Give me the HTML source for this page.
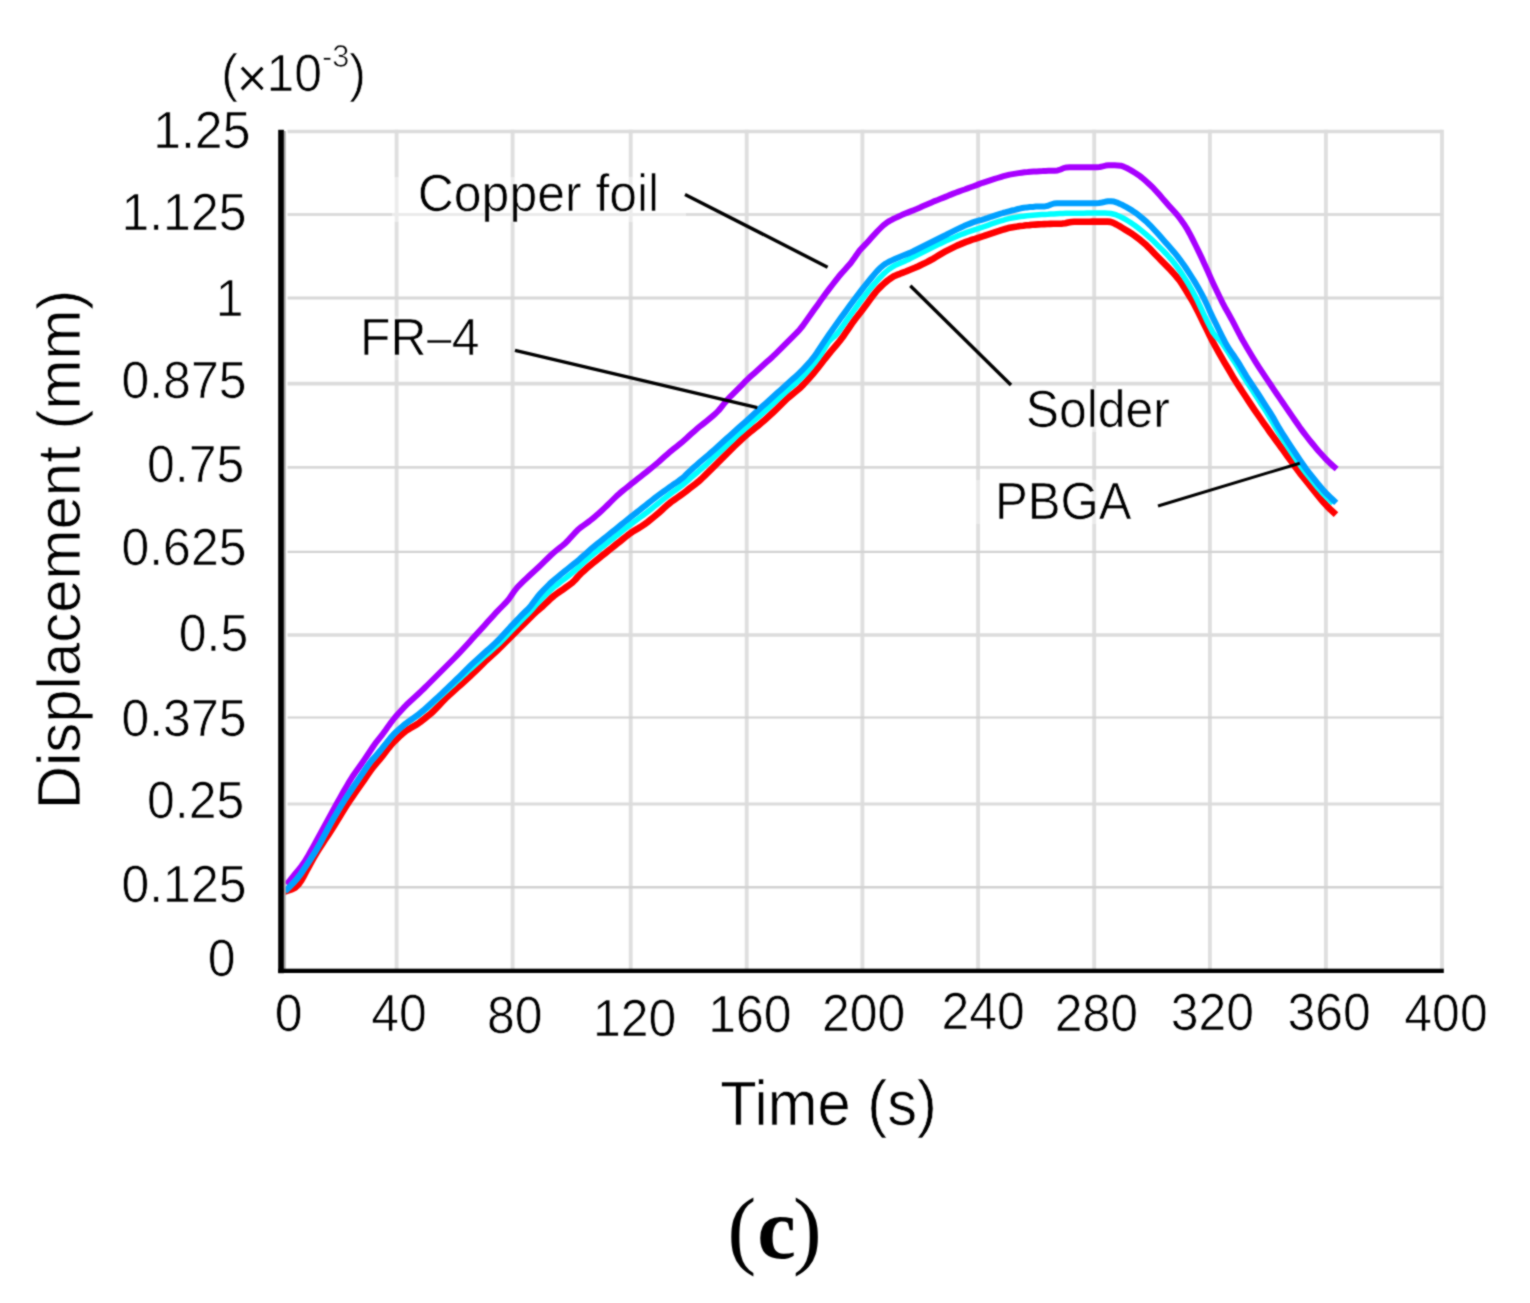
<!DOCTYPE html>
<html lang="en">
<head>
<meta charset="utf-8">
<title>Displacement vs. time (c)</title>
<style>
html,body{margin:0;padding:0;background:#fff;}
body{width:1530px;height:1303px;overflow:hidden;}
svg{display:block;}
text{font-family:"Liberation Sans",sans-serif;fill:#000;}
.lbl text{stroke:#fff;stroke-width:0.7px;stroke-linejoin:round;}
.curve{fill:none;stroke-linejoin:round;stroke-linecap:butt;}
</style>
</head>
<body>
<svg width="1530" height="1303" viewBox="0 0 1530 1303">
<defs>
<filter id="soft" x="0" y="0" width="1530" height="1303" filterUnits="userSpaceOnUse" color-interpolation-filters="sRGB">
<feConvolveMatrix order="3" kernelMatrix="1 2 1 2 8 2 1 2 1" divisor="20" edgeMode="duplicate" preserveAlpha="true"/>
</filter>
</defs>
<g filter="url(#soft)">
<rect x="0" y="0" width="1530" height="1303" fill="#ffffff"/>
<g class="grid">
<line x1="396.6" y1="129.7" x2="396.6" y2="970" stroke="#dfdfdf" stroke-width="3.9"/>
<line x1="512.6" y1="129.7" x2="512.6" y2="970" stroke="#dfdfdf" stroke-width="3.9"/>
<line x1="630.7" y1="129.7" x2="630.7" y2="970" stroke="#dfdfdf" stroke-width="3.9"/>
<line x1="746.7" y1="129.7" x2="746.7" y2="970" stroke="#dfdfdf" stroke-width="3.9"/>
<line x1="862.4" y1="129.7" x2="862.4" y2="970" stroke="#dfdfdf" stroke-width="3.9"/>
<line x1="978.1" y1="129.7" x2="978.1" y2="970" stroke="#dfdfdf" stroke-width="3.9"/>
<line x1="1094.2" y1="129.7" x2="1094.2" y2="970" stroke="#dfdfdf" stroke-width="3.9"/>
<line x1="1209.9" y1="129.7" x2="1209.9" y2="970" stroke="#dfdfdf" stroke-width="3.9"/>
<line x1="1325.9" y1="129.7" x2="1325.9" y2="970" stroke="#dfdfdf" stroke-width="3.9"/>
<line x1="1442.0" y1="129.7" x2="1442.0" y2="970" stroke="#dfdfdf" stroke-width="3.9"/>
<line x1="287.5" y1="131.5" x2="1442.5" y2="131.5" stroke="#dcdcdc" stroke-width="3.6"/>
<line x1="287.5" y1="214.5" x2="1442.5" y2="214.5" stroke="#dcdcdc" stroke-width="3.2"/>
<line x1="287.5" y1="298.0" x2="1442.5" y2="298.0" stroke="#d8d8d8" stroke-width="2.8"/>
<line x1="287.5" y1="383.6" x2="1442.5" y2="383.6" stroke="#dcdcdc" stroke-width="3.6"/>
<line x1="287.5" y1="467.3" x2="1442.5" y2="467.3" stroke="#d8d8d8" stroke-width="2.8"/>
<line x1="287.5" y1="551.9" x2="1442.5" y2="551.9" stroke="#d2d2d2" stroke-width="2.3"/>
<line x1="287.5" y1="635.0" x2="1442.5" y2="635.0" stroke="#dcdcdc" stroke-width="3.6"/>
<line x1="287.5" y1="717.6" x2="1442.5" y2="717.6" stroke="#d2d2d2" stroke-width="2.0"/>
<line x1="287.5" y1="804.0" x2="1442.5" y2="804.0" stroke="#dcdcdc" stroke-width="3.2"/>
<line x1="287.5" y1="887.2" x2="1442.5" y2="887.2" stroke="#d2d2d2" stroke-width="2.4"/>
</g>
<!-- faint white boxes behind annotation labels -->
<g fill="#ffffff">
<rect x="392" y="177" width="294" height="45" fill-opacity="0.42"/>
<rect x="1022" y="388" width="152" height="44" fill-opacity="0.4"/>
<rect x="975" y="480" width="160" height="44" fill-opacity="0.35"/>
<rect x="356" y="316" width="128" height="44" fill-opacity="0.3"/>
</g>
<!-- curves -->
<polyline class="curve" stroke="#a800ff" stroke-width="6" points="286.5,884.5 289.5,880.9 292.5,877.2 295.5,873.5 298.5,869.8 301.5,866.0 304.5,861.8 307.5,856.9 310.5,851.6 313.5,846.3 316.5,840.8 319.5,835.3 322.5,829.8 325.5,824.3 328.5,818.8 331.5,813.3 334.5,807.7 337.5,802.2 340.5,796.9 343.5,791.6 346.5,786.4 349.5,781.3 352.5,776.5 355.5,772.1 358.5,767.9 361.5,763.7 364.5,759.4 367.5,755.0 370.5,750.5 373.5,746.0 376.5,741.8 379.5,738.1 382.5,734.3 385.5,730.2 388.5,725.9 391.5,721.8 394.5,718.0 397.5,714.5 400.5,711.2 403.5,707.9 406.5,704.8 409.5,702.0 412.5,699.3 415.5,696.6 418.5,693.8 421.5,690.9 424.5,688.0 427.5,685.0 430.5,682.0 433.5,679.0 436.5,676.0 439.5,673.0 442.5,670.0 445.5,667.0 448.5,664.0 451.5,661.0 454.5,658.0 457.5,654.9 460.5,651.7 463.5,648.5 466.5,645.2 469.5,641.9 472.5,638.6 475.5,635.3 478.5,632.0 481.5,628.7 484.5,625.4 487.5,622.0 490.5,618.7 493.5,615.4 496.5,612.1 499.5,609.0 502.5,606.0 505.5,602.9 508.5,599.6 511.5,595.3 514.5,590.8 517.5,587.2 520.5,584.2 523.5,581.2 526.5,578.3 529.5,575.5 532.5,572.8 535.5,570.1 538.5,567.3 541.5,564.4 544.5,561.4 547.5,558.5 550.6,555.5 553.6,552.8 556.6,550.3 559.6,547.9 562.6,545.5 565.6,542.9 568.6,539.8 571.6,536.5 574.6,533.2 577.6,530.1 580.6,527.5 583.6,525.3 586.6,523.2 589.6,521.0 592.6,518.6 595.6,516.1 598.6,513.4 601.6,510.7 604.6,507.9 607.6,505.0 610.6,502.0 613.6,499.0 616.6,496.1 619.6,493.4 622.6,490.9 625.6,488.5 628.6,486.1 631.6,483.7 634.6,481.3 637.6,478.9 640.6,476.6 643.6,474.2 646.6,471.8 649.6,469.4 652.6,467.0 655.6,464.5 658.6,462.0 661.6,459.3 664.6,456.6 667.6,453.9 670.6,451.3 673.6,448.9 676.6,446.6 679.6,444.2 682.6,441.7 685.6,439.1 688.6,436.3 691.6,433.6 694.6,430.9 697.6,428.3 700.6,425.8 703.6,423.5 706.6,421.1 709.6,418.6 712.6,416.1 715.6,413.5 718.6,410.5 721.6,406.8 724.6,403.0 727.6,399.5 730.6,396.3 733.6,393.3 736.6,390.3 739.6,387.3 742.6,384.3 745.6,381.2 748.6,378.3 751.6,375.6 754.6,372.9 757.6,370.2 760.6,367.5 763.6,364.8 766.6,362.1 769.6,359.4 772.6,356.7 775.6,353.8 778.6,350.9 781.6,347.9 784.6,344.8 787.6,341.8 790.6,338.8 793.6,335.8 796.6,332.9 799.6,329.7 802.6,326.0 805.6,321.8 808.6,317.6 811.6,313.3 814.6,309.1 817.6,304.9 820.6,300.6 823.6,296.4 826.6,292.3 829.6,288.4 832.6,284.5 835.6,280.6 838.6,276.8 841.6,273.3 844.6,270.0 847.6,266.6 850.6,263.2 853.6,259.1 856.6,254.7 859.6,250.6 862.6,247.3 865.6,244.2 868.6,240.9 871.6,237.6 874.6,234.3 877.6,231.0 880.6,228.0 883.6,225.1 886.6,222.8 889.6,220.9 892.6,219.3 895.6,217.9 898.6,216.5 901.6,215.1 904.6,213.8 907.6,212.6 910.6,211.4 913.6,210.2 916.6,209.0 919.6,207.7 922.6,206.3 925.6,205.0 928.6,203.7 931.6,202.4 934.6,201.1 937.6,200.0 940.6,198.8 943.6,197.6 946.6,196.4 949.6,195.1 952.6,193.9 955.6,192.7 958.6,191.6 961.6,190.5 964.6,189.5 967.6,188.4 970.6,187.3 973.6,186.2 976.6,185.1 979.6,183.9 982.6,182.8 985.6,181.8 988.6,180.8 991.6,179.8 994.6,178.9 997.6,178.0 1000.6,177.1 1003.6,176.2 1006.6,175.4 1009.6,174.6 1012.6,174.1 1015.6,173.6 1018.6,173.1 1021.6,172.7 1024.6,172.3 1027.6,172.1 1030.6,171.8 1033.6,171.6 1036.6,171.4 1039.6,171.2 1042.6,171.1 1045.6,170.9 1048.6,170.8 1051.6,170.7 1054.6,170.7 1057.6,170.4 1060.6,169.5 1063.6,168.1 1066.6,167.4 1069.6,167.3 1072.6,167.3 1075.7,167.3 1078.7,167.3 1081.7,167.3 1084.7,167.3 1087.7,167.3 1090.7,167.3 1093.7,167.3 1096.7,167.3 1099.7,167.0 1102.7,166.3 1105.7,165.6 1108.7,165.3 1111.7,165.3 1114.7,165.3 1117.7,165.4 1120.7,165.7 1123.7,166.7 1126.7,168.0 1129.7,169.6 1132.7,171.4 1135.7,173.2 1138.7,175.2 1141.7,177.5 1144.7,180.1 1147.7,182.7 1150.7,185.5 1153.7,188.4 1156.7,191.7 1159.7,195.1 1162.7,198.6 1165.7,202.0 1168.7,205.4 1171.7,208.7 1174.7,212.0 1177.7,215.5 1180.7,219.5 1183.7,223.7 1186.7,228.3 1189.7,233.7 1192.7,239.5 1195.7,245.5 1198.7,251.6 1201.7,257.9 1204.7,264.4 1207.7,271.1 1210.7,277.9 1213.7,284.5 1216.7,290.8 1219.7,297.0 1222.7,303.1 1225.7,308.8 1228.7,314.1 1231.7,319.4 1234.7,325.1 1237.7,331.0 1240.7,336.7 1243.7,342.1 1246.7,347.2 1249.7,352.3 1252.7,357.3 1255.7,362.1 1258.7,366.8 1261.7,371.4 1264.7,375.9 1267.7,380.4 1270.7,384.8 1273.7,389.3 1276.7,393.7 1279.7,398.1 1282.7,402.5 1285.7,406.9 1288.7,411.2 1291.7,415.6 1294.7,420.0 1297.7,424.3 1300.7,428.6 1303.7,432.6 1306.7,436.5 1309.7,440.3 1312.7,444.0 1315.7,447.7 1318.7,451.2 1321.7,454.5 1324.7,457.8 1327.7,460.9 1330.7,463.7 1333.7,466.4 1336.7,469.0"/>
<polyline class="curve" stroke="#ff0000" stroke-width="6.6" points="283.2,892.2 286.2,891.2 289.2,890.2 292.2,889.1 295.2,887.5 298.2,884.7 301.2,880.6 304.3,875.1 307.3,869.3 310.3,863.9 313.3,858.5 316.3,853.3 319.3,848.5 322.3,843.9 325.3,839.3 328.3,834.8 331.3,830.2 334.3,825.5 337.3,820.6 340.4,815.6 343.4,810.6 346.4,805.8 349.4,801.2 352.4,796.9 355.4,792.5 358.4,788.2 361.4,783.9 364.4,779.6 367.4,775.2 370.4,770.9 373.4,766.8 376.5,763.1 379.5,759.6 382.5,755.9 385.5,752.0 388.5,748.1 391.5,744.4 394.5,741.3 397.5,738.4 400.5,735.5 403.5,732.8 406.5,730.5 409.5,728.6 412.5,726.9 415.6,725.1 418.6,723.2 421.6,721.0 424.6,718.6 427.6,716.2 430.6,713.7 433.6,711.0 436.6,707.9 439.6,704.7 442.6,701.5 445.6,698.4 448.6,695.6 451.7,692.8 454.7,690.1 457.7,687.4 460.7,684.7 463.7,682.0 466.7,679.3 469.7,676.6 472.7,673.7 475.7,670.8 478.7,667.8 481.7,664.8 484.7,661.8 487.8,659.0 490.8,656.3 493.8,653.6 496.8,650.8 499.8,647.9 502.8,644.9 505.8,642.0 508.8,639.0 511.8,636.0 514.8,633.0 517.8,630.0 520.8,627.0 523.9,623.9 526.9,620.9 529.9,617.9 532.9,614.9 535.9,612.1 538.9,609.5 541.9,607.0 544.9,604.2 547.9,601.3 550.9,598.4 553.9,595.9 556.9,593.7 559.9,591.5 563.0,589.4 566.0,587.3 569.0,585.1 572.0,582.9 575.0,580.0 578.0,576.5 581.0,573.4 584.0,570.7 587.0,568.1 590.0,565.5 593.0,563.0 596.0,560.6 599.1,558.1 602.1,555.7 605.1,553.3 608.1,550.9 611.1,548.5 614.1,546.1 617.1,543.7 620.1,541.3 623.1,538.9 626.1,536.5 629.1,534.1 632.1,532.0 635.2,530.2 638.2,528.4 641.2,526.5 644.2,524.5 647.2,522.3 650.2,519.9 653.2,517.5 656.2,515.0 659.2,512.4 662.2,509.7 665.2,506.9 668.2,504.3 671.2,501.9 674.3,499.7 677.3,497.6 680.3,495.5 683.3,493.3 686.3,491.1 689.3,488.7 692.3,486.4 695.3,484.1 698.3,481.7 701.3,479.0 704.3,476.1 707.3,473.1 710.4,470.1 713.4,467.1 716.4,464.1 719.4,461.1 722.4,458.1 725.4,455.1 728.4,452.1 731.4,449.1 734.4,446.1 737.4,443.3 740.4,440.5 743.4,437.8 746.5,435.1 749.5,432.5 752.5,430.1 755.5,427.7 758.5,425.3 761.5,422.8 764.5,420.2 767.5,417.5 770.5,414.8 773.5,412.0 776.5,409.1 779.5,406.1 782.5,403.1 785.6,400.1 788.6,397.4 791.6,394.9 794.6,392.5 797.6,390.0 800.6,387.4 803.6,384.4 806.6,381.1 809.6,377.8 812.6,374.4 815.6,370.7 818.6,366.9 821.7,363.0 824.7,359.1 827.7,355.4 830.7,351.7 833.7,348.2 836.7,344.6 839.7,341.0 842.7,337.1 845.7,332.7 848.7,328.3 851.7,323.9 854.7,319.8 857.8,315.8 860.8,311.9 863.8,308.0 866.8,304.0 869.8,299.9 872.8,295.8 875.8,291.9 878.8,288.6 881.8,285.6 884.8,282.8 887.8,280.4 890.8,278.3 893.8,276.3 896.9,274.9 899.9,273.8 902.9,272.6 905.9,271.5 908.9,270.2 911.9,269.0 914.9,267.8 917.9,266.5 920.9,265.0 923.9,263.6 926.9,262.1 929.9,260.5 933.0,258.8 936.0,257.0 939.0,255.2 942.0,253.4 945.0,251.7 948.0,250.1 951.0,248.6 954.0,247.1 957.0,245.6 960.0,244.4 963.0,243.1 966.0,241.9 969.1,240.8 972.1,239.7 975.1,238.8 978.1,237.8 981.1,236.8 984.1,235.9 987.1,234.8 990.1,233.8 993.1,232.8 996.1,231.8 999.1,230.9 1002.1,229.9 1005.2,229.0 1008.2,228.1 1011.2,227.5 1014.2,226.9 1017.2,226.5 1020.2,226.0 1023.2,225.7 1026.2,225.3 1029.2,225.1 1032.2,224.8 1035.2,224.6 1038.2,224.4 1041.2,224.2 1044.3,224.1 1047.3,224.0 1050.3,223.9 1053.3,223.8 1056.3,223.7 1059.3,223.7 1062.3,223.6 1065.3,223.2 1068.3,222.5 1071.3,222.0 1074.3,221.8 1077.3,221.7 1080.4,221.7 1083.4,221.7 1086.4,221.7 1089.4,221.7 1092.4,221.6 1095.4,221.6 1098.4,221.6 1101.4,221.6 1104.4,221.5 1107.4,221.6 1110.4,221.9 1113.4,222.9 1116.5,224.5 1119.5,226.2 1122.5,228.0 1125.5,229.8 1128.5,231.6 1131.5,233.5 1134.5,235.6 1137.5,237.9 1140.5,240.2 1143.5,242.7 1146.5,245.3 1149.5,248.3 1152.5,251.5 1155.6,254.7 1158.6,257.8 1161.6,260.8 1164.6,263.8 1167.6,266.9 1170.6,270.0 1173.6,273.4 1176.6,276.8 1179.6,280.5 1182.6,285.0 1185.6,289.8 1188.6,294.7 1191.7,299.7 1194.7,305.2 1197.7,311.1 1200.7,317.1 1203.7,323.3 1206.7,329.4 1209.7,335.6 1212.7,341.5 1215.7,347.0 1218.7,352.3 1221.7,357.6 1224.7,362.8 1227.8,368.0 1230.8,373.2 1233.8,378.3 1236.8,383.0 1239.8,387.6 1242.8,392.2 1245.8,396.8 1248.8,401.4 1251.8,405.9 1254.8,410.3 1257.8,414.6 1260.8,419.0 1263.8,423.3 1266.9,427.7 1269.9,432.0 1272.9,436.2 1275.9,440.3 1278.9,444.4 1281.9,448.4 1284.9,452.6 1287.9,456.8 1290.9,460.9 1293.9,465.0 1296.9,469.1 1299.9,473.1 1303.0,477.0 1306.0,480.7 1309.0,484.4 1312.0,488.2 1315.0,491.9 1318.0,495.7 1321.0,499.3 1324.0,502.8 1327.0,506.1 1330.0,509.1 1333.0,511.9 1336.0,514.7"/>
<polyline class="curve" stroke="#00ffff" stroke-width="5.5" points="285.2,891.2 288.2,888.2 291.2,885.2 294.2,882.0 297.2,878.5 300.2,874.6 303.2,870.3 306.2,865.8 309.2,861.3 312.2,856.6 315.2,851.8 318.2,846.7 321.2,841.3 324.2,835.7 327.2,830.1 330.2,824.5 333.2,819.2 336.2,814.0 339.2,808.9 342.2,803.9 345.2,799.1 348.3,794.5 351.3,790.0 354.3,785.5 357.3,781.1 360.3,776.7 363.3,772.2 366.3,767.9 369.3,763.8 372.3,759.9 375.3,756.4 378.3,752.9 381.3,749.3 384.3,745.6 387.3,741.9 390.3,738.2 393.3,734.9 396.3,731.9 399.3,729.1 402.3,726.5 405.3,724.2 408.3,722.0 411.3,719.9 414.3,717.9 417.3,715.9 420.3,713.7 423.3,711.3 426.3,708.8 429.3,706.3 432.3,703.7 435.3,701.0 438.3,698.3 441.3,695.5 444.3,692.8 447.3,690.0 450.3,687.3 453.3,684.6 456.3,681.8 459.3,679.1 462.3,676.3 465.3,673.6 468.3,670.8 471.3,668.1 474.4,665.4 477.4,662.7 480.4,660.0 483.4,657.3 486.4,654.7 489.4,652.1 492.4,649.5 495.4,646.8 498.4,644.0 501.4,641.0 504.4,638.0 507.4,634.8 510.4,631.7 513.4,628.6 516.4,625.5 519.4,622.4 522.4,619.4 525.4,616.4 528.4,613.3 531.4,610.1 534.4,606.7 537.4,603.3 540.4,600.1 543.4,597.1 546.4,594.1 549.4,591.3 552.4,588.5 555.4,586.0 558.4,583.7 561.4,581.4 564.4,579.1 567.4,576.8 570.4,574.4 573.4,571.9 576.4,569.2 579.4,566.4 582.4,563.7 585.4,561.0 588.4,558.3 591.4,555.7 594.4,553.2 597.4,550.8 600.5,548.4 603.5,546.0 606.5,543.6 609.5,541.2 612.5,538.8 615.5,536.4 618.5,534.0 621.5,531.6 624.5,529.2 627.5,526.8 630.5,524.5 633.5,522.3 636.5,520.1 639.5,517.9 642.5,515.8 645.5,513.5 648.5,511.2 651.5,508.8 654.5,506.4 657.5,504.0 660.5,501.6 663.5,499.2 666.5,496.8 669.5,494.5 672.5,492.3 675.5,490.2 678.5,488.0 681.5,485.8 684.5,483.4 687.5,480.9 690.5,478.2 693.5,475.7 696.5,473.1 699.5,470.5 702.5,467.9 705.5,465.2 708.5,462.4 711.5,459.6 714.5,456.8 717.5,454.0 720.5,451.2 723.6,448.4 726.6,445.5 729.6,442.7 732.6,439.9 735.6,437.1 738.6,434.3 741.6,431.6 744.6,428.9 747.6,426.3 750.6,423.6 753.6,421.0 756.6,418.5 759.6,415.9 762.6,413.2 765.6,410.6 768.6,407.9 771.6,405.1 774.6,402.4 777.6,399.6 780.6,396.8 783.6,394.0 786.6,391.2 789.6,388.5 792.6,385.9 795.6,383.3 798.6,380.6 801.6,377.7 804.6,374.6 807.6,371.3 810.6,367.9 813.6,364.3 816.6,360.4 819.6,356.2 822.6,351.7 825.6,346.6 828.6,341.7 831.6,338.7 834.6,336.4 837.6,333.1 840.6,329.0 843.6,324.7 846.6,320.4 849.7,316.2 852.7,312.0 855.7,307.8 858.7,303.7 861.7,299.7 864.7,295.7 867.7,291.9 870.7,288.1 873.7,284.6 876.7,281.2 879.7,277.9 882.7,274.8 885.7,272.0 888.7,269.5 891.7,267.4 894.7,265.6 897.7,264.2 900.7,262.9 903.7,261.7 906.7,260.3 909.7,258.9 912.7,257.4 915.7,255.9 918.7,254.4 921.7,252.9 924.7,251.4 927.7,249.9 930.7,248.4 933.7,246.9 936.7,245.4 939.7,243.9 942.7,242.5 945.7,241.1 948.7,239.8 951.7,238.5 954.7,237.2 957.7,235.9 960.7,234.7 963.7,233.6 966.7,232.4 969.7,231.4 972.8,230.3 975.8,229.3 978.8,228.4 981.8,227.4 984.8,226.4 987.8,225.3 990.8,224.2 993.8,223.2 996.8,222.2 999.8,221.2 1002.8,220.3 1005.8,219.4 1008.8,218.6 1011.8,218.0 1014.8,217.5 1017.8,217.0 1020.8,216.6 1023.8,216.2 1026.8,215.8 1029.8,215.5 1032.8,215.2 1035.8,215.0 1038.8,214.8 1041.8,214.6 1044.8,214.4 1047.8,214.3 1050.8,214.1 1053.8,213.9 1056.8,213.7 1059.8,213.5 1062.8,213.4 1065.8,213.3 1068.8,213.3 1071.8,213.2 1074.8,213.2 1077.8,213.2 1080.8,213.2 1083.8,213.2 1086.8,213.1 1089.8,213.1 1092.8,213.1 1095.8,213.1 1098.9,213.1 1101.9,213.1 1104.9,213.1 1107.9,213.2 1110.9,213.5 1113.9,214.2 1116.9,215.2 1119.9,216.5 1122.9,218.0 1125.9,219.7 1128.9,221.5 1131.9,223.4 1134.9,225.5 1137.9,227.8 1140.9,230.1 1143.9,232.6 1146.9,235.2 1149.9,237.8 1152.9,240.6 1155.9,243.5 1158.9,246.4 1161.9,249.4 1164.9,252.5 1167.9,255.7 1170.9,259.1 1173.9,262.7 1176.9,266.6 1179.9,270.8 1182.9,275.3 1185.9,279.9 1188.9,284.8 1191.9,290.0 1194.9,295.6 1197.9,301.6 1200.9,308.0 1203.9,314.4 1206.9,320.7 1209.9,326.8 1212.9,332.4 1215.9,336.4 1218.9,339.1 1221.9,342.7 1225.0,347.5 1228.0,352.1 1231.0,356.6 1234.0,361.1 1237.0,365.9 1240.0,370.8 1243.0,375.8 1246.0,380.6 1249.0,385.2 1252.0,389.8 1255.0,394.4 1258.0,399.0 1261.0,403.7 1264.0,408.3 1267.0,413.1 1270.0,418.1 1273.0,423.2 1276.0,428.3 1279.0,433.2 1282.0,438.0 1285.0,442.6 1288.0,447.1 1291.0,451.7 1294.0,456.2 1297.0,460.6 1300.0,465.0 1303.0,469.1 1306.0,473.1 1309.0,476.9 1312.0,480.6 1315.0,484.3 1318.0,487.9 1321.0,491.3 1324.0,494.5 1327.0,497.4 1330.0,500.3 1333.0,503.2"/>
<polyline class="curve" stroke="#00a0ff" stroke-width="6" points="285.2,891.2 288.2,888.2 291.2,885.2 294.2,882.1 297.2,878.8 300.2,874.7 303.2,870.3 306.2,865.9 309.2,861.3 312.2,856.7 315.2,851.9 318.2,846.9 321.2,841.4 324.2,835.7 327.2,830.0 330.2,824.4 333.2,819.0 336.3,813.9 339.3,808.8 342.3,803.8 345.3,799.0 348.3,794.4 351.3,790.0 354.3,785.5 357.3,781.1 360.3,776.6 363.3,772.2 366.3,767.8 369.3,763.5 372.3,759.7 375.3,756.4 378.3,753.0 381.3,749.4 384.3,745.6 387.3,741.8 390.3,738.1 393.3,734.7 396.3,731.7 399.3,729.0 402.3,726.4 405.3,723.8 408.3,721.6 411.3,719.5 414.3,717.4 417.3,715.3 420.3,712.9 423.3,710.4 426.3,707.7 429.3,705.0 432.3,702.3 435.3,699.5 438.4,696.7 441.4,693.8 444.4,691.0 447.4,688.1 450.4,685.3 453.4,682.4 456.4,679.5 459.4,676.6 462.4,673.6 465.4,670.6 468.4,667.6 471.4,664.7 474.4,661.9 477.4,659.2 480.4,656.5 483.4,653.8 486.4,651.1 489.4,648.4 492.4,645.7 495.4,642.9 498.4,640.0 501.4,636.8 504.4,633.5 507.4,630.2 510.4,626.9 513.4,623.8 516.4,620.6 519.4,617.5 522.4,614.4 525.4,611.5 528.4,608.6 531.4,605.1 534.4,601.0 537.4,596.9 540.5,593.2 543.5,590.0 546.5,587.0 549.5,584.0 552.5,581.2 555.5,578.7 558.5,576.3 561.5,573.8 564.5,571.4 567.5,569.0 570.5,566.6 573.5,564.2 576.5,561.8 579.5,559.3 582.5,556.6 585.5,553.9 588.5,551.2 591.5,548.6 594.5,546.1 597.5,543.7 600.5,541.3 603.5,538.9 606.5,536.5 609.5,534.1 612.5,531.7 615.5,529.3 618.5,526.9 621.5,524.4 624.5,522.0 627.5,519.6 630.5,517.2 633.5,514.8 636.5,512.5 639.6,510.1 642.6,507.7 645.6,505.3 648.6,502.9 651.6,500.5 654.6,498.1 657.6,495.8 660.6,493.6 663.6,491.5 666.6,489.4 669.6,487.2 672.6,485.1 675.6,483.1 678.6,481.0 681.6,478.7 684.6,476.2 687.6,473.2 690.6,470.3 693.6,467.5 696.6,464.9 699.6,462.3 702.6,459.8 705.6,457.2 708.6,454.7 711.6,452.0 714.6,449.4 717.6,446.7 720.6,444.0 723.6,441.3 726.6,438.6 729.6,435.9 732.6,433.2 735.6,430.5 738.6,427.8 741.7,425.1 744.7,422.4 747.7,419.7 750.7,417.0 753.7,414.3 756.7,411.6 759.7,408.8 762.7,406.1 765.7,403.4 768.7,400.7 771.7,398.0 774.7,395.3 777.7,392.6 780.7,389.9 783.7,387.2 786.7,384.5 789.7,381.8 792.7,379.1 795.7,376.4 798.7,373.6 801.7,370.7 804.7,367.5 807.7,364.2 810.7,360.9 813.7,357.2 816.7,353.0 819.7,348.4 822.7,343.8 825.7,339.3 828.7,334.9 831.7,330.7 834.7,326.5 837.7,322.3 840.7,318.1 843.8,313.9 846.8,309.7 849.8,305.6 852.8,301.5 855.8,297.5 858.8,293.6 861.8,289.7 864.8,285.9 867.8,282.2 870.8,278.5 873.8,274.9 876.8,271.4 879.8,268.3 882.8,265.7 885.8,263.5 888.8,261.8 891.8,260.4 894.8,259.0 897.8,257.7 900.8,256.5 903.8,255.3 906.8,254.1 909.8,252.9 912.8,251.5 915.8,250.0 918.8,248.5 921.8,247.0 924.8,245.5 927.8,244.0 930.8,242.5 933.8,241.0 936.8,239.5 939.8,238.0 942.8,236.5 945.9,235.0 948.9,233.4 951.9,231.9 954.9,230.4 957.9,228.9 960.9,227.5 963.9,226.1 966.9,224.8 969.9,223.6 972.9,222.4 975.9,221.4 978.9,220.5 981.9,219.8 984.9,218.9 987.9,217.9 990.9,216.8 993.9,215.8 996.9,214.8 999.9,213.9 1002.9,213.0 1005.9,212.2 1008.9,211.3 1011.9,210.5 1014.9,209.8 1017.9,209.0 1020.9,208.3 1023.9,207.8 1026.9,207.4 1029.9,207.1 1032.9,206.9 1035.9,206.6 1038.9,206.5 1041.9,206.5 1045.0,206.4 1048.0,205.8 1051.0,204.5 1054.0,203.5 1057.0,203.3 1060.0,203.2 1063.0,203.2 1066.0,203.2 1069.0,203.2 1072.0,203.2 1075.0,203.2 1078.0,203.2 1081.0,203.2 1084.0,203.2 1087.0,203.2 1090.0,203.2 1093.0,203.2 1096.0,203.2 1099.0,203.0 1102.0,202.5 1105.0,201.8 1108.0,201.3 1111.0,201.3 1114.0,201.6 1117.0,202.6 1120.0,203.9 1123.0,205.3 1126.0,206.9 1129.0,208.6 1132.0,210.4 1135.0,212.4 1138.0,214.7 1141.0,217.1 1144.0,219.6 1147.1,222.3 1150.1,225.3 1153.1,228.5 1156.1,231.8 1159.1,235.1 1162.1,238.5 1165.1,241.9 1168.1,245.3 1171.1,248.7 1174.1,252.2 1177.1,255.9 1180.1,259.8 1183.1,263.9 1186.1,268.3 1189.1,272.8 1192.1,277.5 1195.1,282.4 1198.1,287.5 1201.1,292.9 1204.1,298.7 1207.1,305.1 1210.1,311.7 1213.1,318.0 1216.1,324.1 1219.1,330.2 1222.1,336.3 1225.1,342.2 1228.1,347.5 1231.1,351.9 1234.1,356.1 1237.1,360.6 1240.1,365.4 1243.1,370.5 1246.1,375.6 1249.2,380.3 1252.2,384.9 1255.2,389.4 1258.2,394.0 1261.2,398.7 1264.2,403.3 1267.2,408.0 1270.2,412.7 1273.2,417.6 1276.2,422.9 1279.2,428.2 1282.2,433.0 1285.2,437.7 1288.2,442.3 1291.2,446.8 1294.2,451.3 1297.2,455.9 1300.2,460.4 1303.2,464.8 1306.2,469.0 1309.2,472.9 1312.2,476.6 1315.2,480.4 1318.2,484.1 1321.2,487.7 1324.2,491.2 1327.2,494.3 1330.2,497.1 1333.2,500.0 1336.2,502.9"/>
<!-- axes -->
<rect x="278.2" y="129.8" width="5.7" height="843.4" fill="#000"/>
<rect x="283.9" y="131" width="1.9" height="838" fill="#aaa"/>
<rect x="278.2" y="968.7" width="1165.6" height="4.3" fill="#000"/>
<!-- leader lines -->
<g stroke="#000" stroke-width="3.4" stroke-linecap="butt">
<line x1="685" y1="194.4" x2="827.6" y2="267.2"/>
<line x1="515" y1="350.3" x2="757.3" y2="407.7"/>
<line x1="910.3" y1="285.8" x2="1011" y2="385"/>
<line x1="1158" y1="506" x2="1299.8" y2="463.2" stroke-width="3"/>
</g>
<g class="lbl">
<text transform="translate(250.40 147.75) scale(0.960 1)" font-size="52" text-anchor="end">1.25</text>
<text transform="translate(246.40 230.25) scale(0.960 1)" font-size="52" text-anchor="end">1.125</text>
<text transform="translate(243.60 316.00) scale(0.960 1)" font-size="52" text-anchor="end">1</text>
<text transform="translate(246.40 398.15) scale(0.960 1)" font-size="52" text-anchor="end">0.875</text>
<text transform="translate(244.20 482.30) scale(0.960 1)" font-size="52" text-anchor="end">0.75</text>
<text transform="translate(246.40 565.05) scale(0.960 1)" font-size="52" text-anchor="end">0.625</text>
<text transform="translate(248.20 651.35) scale(0.960 1)" font-size="52" text-anchor="end">0.5</text>
<text transform="translate(246.40 736.10) scale(0.960 1)" font-size="52" text-anchor="end">0.375</text>
<text transform="translate(244.20 818.15) scale(0.960 1)" font-size="52" text-anchor="end">0.25</text>
<text transform="translate(246.40 902.10) scale(0.960 1)" font-size="52" text-anchor="end">0.125</text>
<text transform="translate(235.40 975.60) scale(0.960 1)" font-size="52" text-anchor="end">0</text>
<text transform="translate(288.70 1030.95) scale(0.960 1)" font-size="52" text-anchor="middle">0</text>
<text transform="translate(398.90 1031.35) scale(0.960 1)" font-size="52" text-anchor="middle">40</text>
<text transform="translate(514.80 1033.40) scale(0.960 1)" font-size="52" text-anchor="middle">80</text>
<text transform="translate(634.60 1035.55) scale(0.960 1)" font-size="52" text-anchor="middle">120</text>
<text transform="translate(749.80 1032.20) scale(0.960 1)" font-size="52" text-anchor="middle">160</text>
<text transform="translate(863.60 1031.35) scale(0.960 1)" font-size="52" text-anchor="middle">200</text>
<text transform="translate(983.10 1029.20) scale(0.960 1)" font-size="52" text-anchor="middle">240</text>
<text transform="translate(1096.40 1031.35) scale(0.960 1)" font-size="52" text-anchor="middle">280</text>
<text transform="translate(1212.40 1029.80) scale(0.960 1)" font-size="52" text-anchor="middle">320</text>
<text transform="translate(1329.20 1029.80) scale(0.960 1)" font-size="52" text-anchor="middle">360</text>
<text transform="translate(1446.00 1031.35) scale(0.960 1)" font-size="52" text-anchor="middle">400</text>
<text transform="translate(538.50 211.35) scale(0.960 1)" font-size="52" text-anchor="middle">Copper foil</text>
<text transform="translate(419.80 355.25) scale(0.960 1)" font-size="52" text-anchor="middle">FR<tspan font-size="46" dx="0.3" dy="-2.6">–</tspan><tspan dx="0.3" dy="2.6">4</tspan></text>
<text transform="translate(1097.80 427.20) scale(0.960 1)" font-size="52" text-anchor="middle">Solder</text>
<text transform="translate(1063.20 519.35) scale(0.945 1)" font-size="52" text-anchor="middle">PBGA</text>
<text transform="translate(828.60 1124.75) scale(0.955 1)" font-size="62.5" text-anchor="middle">Time (s)</text>
<text transform="translate(293.60 91.05) scale(0.960 1)" font-size="52" text-anchor="middle">(<tspan font-size="56" dx="-1.5" dy="6">×</tspan><tspan dx="-1.5" dy="-6">10</tspan><tspan font-size="32" dy="-24.5">-3</tspan><tspan dy="24.5">)</tspan></text>
<text transform="translate(80 809.3) rotate(-90) scale(0.975 1)" font-size="61.5">Displacement (mm)</text>
</g>
<text y="1257.5" font-size="86" style="font-family:'Liberation Serif',serif;"><tspan x="727.6">(</tspan><tspan x="757.2" y="1258" font-size="87" font-weight="bold">c</tspan><tspan x="793" y="1257.5">)</tspan></text>
</g>
</svg>
</body>
</html>
